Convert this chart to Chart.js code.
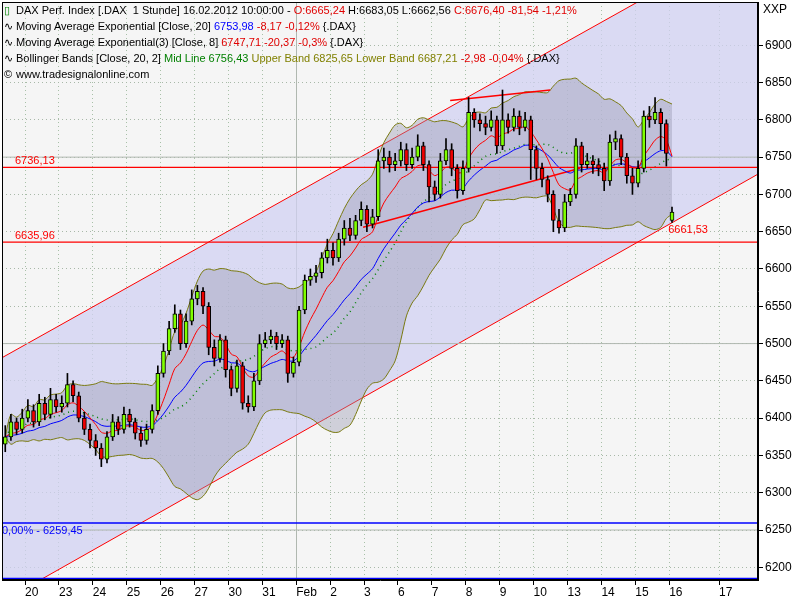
<!DOCTYPE html>
<html><head><meta charset="utf-8">
<script src="https://cdn.jsdelivr.net/npm/chart.js@4"></script>
<style>
html,body{margin:0;padding:0;background:#fff;}
#wrap{position:relative;width:800px;height:600px;}
#leg{position:absolute;left:4px;top:2px;font:11px "Liberation Sans",Arial,sans-serif;color:#000;line-height:16px;pointer-events:none;}
.r{color:#e00000}.b{color:#0000ff}.g{color:#008000}.o{color:#808000}
.ic{display:inline-block;width:12px;}
</style></head><body>
<div id="wrap"><canvas id="c" width="800" height="600"></canvas>
<div id="leg">
<div><span class="ic" style="color:#008000">&#9647;</span>DAX Perf. Index [.DAX&nbsp; 1 Stunde] 16.02.2012 10:00:00 - <span class="r">O:6665,24</span> H:6683,05 L:6662,56 <span class="r">C:6676,40 -81,54 -1,21%</span></div>
<div><span class="ic">&#8767;</span>Moving Average Exponential [Close, 20] <span class="b">6753,98</span> <span class="r">-8,17 -0,12%</span> {.DAX}</div>
<div><span class="ic">&#8767;</span>Moving Average Exponential(3) [Close, 8] <span class="r">6747,71 -20,37 -0,3%</span> {.DAX}</div>
<div><span class="ic">&#8767;</span>Bollinger Bands [Close, 20, 2] <span class="g">Mid Line 6756,43</span> <span class="o">Upper Band 6825,65 Lower Band 6687,21</span> <span class="r">-2,98 -0,04%</span> {.DAX}</div>
<div><span class="ic">&copy;</span>www.tradesignalonline.com</div>
</div></div>
<script>
// day start positions (x units: trading days since 20 Jan) and candles per day
const dayStarts = [-0.667,0,1,2,3,4,5,6,7,8,9,10,11,12,13,14,15,16,17,18,19];
const dayCounts = [4,6,6,6,6,6,6,6,6,6,6,6,6,6,6,6,6,6,6,6,1];
const closes = [6375,6395,6385,6400,
6410,6395,6420,6405,6425,6415,
6420,6445,6430,6400,6385,6370,
6360,6345,6375,6395,6385,6405,
6395,6380,6370,6385,6410,6460,
6490,6520,6540,6500,6530,6560,
6570,6550,6495,6480,6505,6465,
6440,6470,6420,6415,6450,6500,
6505,6510,6500,6505,6460,6475,
6545,6585,6590,6595,6615,6625,
6615,6640,6655,6645,6665,6680,
6660,6670,6745,6750,6740,6745,
6760,6740,6750,6765,6740,6710,
6700,6745,6760,6735,6705,6735,
6810,6800,6795,6790,6800,6765,
6800,6790,6805,6790,6800,6760,
6735,6720,6700,6665,6655,6690,
6700,6765,6740,6745,6740,6735,
6718,6770,6775,6750,6725,6715,
6735,6805,6800,6810,6795,6755,
6676.40];
const opens = [6365,6375,6395,6385,
6400,6410,6395,6420,6405,6425,
6415,6420,6445,6430,6400,6385,
6370,6360,6345,6375,6395,6385,
6405,6395,6380,6370,6385,6410,
6460,6490,6520,6540,6500,6530,
6560,6570,6550,6495,6480,6505,
6465,6440,6470,6420,6415,6450,
6500,6505,6510,6500,6505,6460,
6475,6545,6585,6590,6595,6615,
6625,6615,6640,6655,6645,6665,
6680,6660,6670,6745,6750,6740,
6745,6760,6740,6750,6765,6740,
6710,6700,6745,6760,6735,6705,
6735,6810,6800,6795,6790,6800,
6765,6800,6790,6805,6790,6800,
6760,6735,6720,6700,6665,6655,
6690,6700,6765,6740,6745,6740,
6735,6718,6770,6775,6750,6725,
6715,6735,6805,6800,6810,6795,
6665.24];
const highs = [6390,6405,6400,6412,
6425,6418,6432,6428,6440,6432,
6430,6460,6450,6435,6408,6392,
6378,6366,6382,6405,6402,6415,
6412,6400,6388,6392,6418,6470,
6500,6530,6552,6545,6540,6572,
6578,6575,6555,6505,6512,6510,
6470,6478,6475,6430,6460,6512,
6515,6518,6515,6512,6510,6482,
6550,6592,6600,6605,6622,6640,
6635,6648,6665,6668,6672,6690,
6685,6680,6760,6762,6758,6755,
6770,6768,6762,6780,6770,6745,
6718,6755,6775,6768,6740,6745,
6830,6815,6808,6805,6812,6805,
6840,6808,6815,6812,6810,6805,
6765,6742,6725,6705,6680,6700,
6708,6775,6770,6755,6752,6748,
6742,6780,6785,6780,6755,6735,
6745,6812,6818,6830,6815,6800,
6683.05];
const lows = [6355,6370,6378,6380,
6395,6388,6390,6398,6400,6408,
6408,6415,6422,6395,6378,6360,
6350,6335,6340,6370,6378,6380,
6388,6372,6362,6365,6380,6405,
6455,6485,6515,6492,6495,6525,
6552,6540,6485,6470,6475,6455,
6430,6435,6412,6408,6410,6445,
6495,6500,6492,6495,6448,6455,
6470,6540,6578,6582,6588,6608,
6605,6610,6632,6638,6640,6658,
6650,6655,6665,6735,6730,6732,
6738,6732,6735,6745,6732,6690,
6692,6695,6740,6725,6695,6700,
6730,6790,6785,6780,6785,6755,
6760,6782,6785,6780,6785,6720,
6720,6710,6690,6650,6648,6650,
6685,6695,6730,6735,6728,6725,
6705,6712,6760,6740,6715,6700,
6710,6730,6790,6795,6760,6738,
6662.56];
const tickPos = [0,1,2,3,4,5,6,7,8,9,10,11,12,13,14,15,16,17,18,19,20.47];
const tickLabels = ['20','23','24','25','26','27','30','31','Feb','2','3','6','7','8','9','10','13','14','15','16','17'];
const yTicks = [6200,6250,6300,6350,6400,6450,6500,6550,6600,6650,6700,6750,6800,6850,6900];
const channelUpper = [[-0.8,6478],[22,7058]];
const channelLower = [[-0.8,6151],[22,6737]];
const trendMid = [[9.97,6656],[16.37,6735]];
const trendTop = [[12.54,6826],[15.49,6840]];
const levels = [6736.13,6635.96];
const blueLevels = [6259.45,6185];
const majorGrid = [6250,6500,6750];

const xs=[];
dayStarts.forEach((s,d)=>{for(let j=0;j<dayCounts[d];j++) xs.push(s+(j+0.5)/6);});
function ema(p){const a=2/(p+1);let e=closes[0];return closes.map((c,i)=>{e=i?a*c+(1-a)*e:c;return e;});}
const ema20=ema(20), ema8=ema(8);
const bbMid=[],bbUp=[],bbLo=[];
closes.forEach((c,i)=>{const w=closes.slice(Math.max(0,i-19),i+1);const m=w.reduce((a,b)=>a+b,0)/w.length;
const sd=Math.sqrt(w.reduce((a,b)=>a+(b-m)*(b-m),0)/w.length);bbMid.push(m);bbUp.push(m+2*sd);bbLo.push(m-2*sd);});

const pts=(arr)=>arr.map((v,i)=>({x:xs[i],y:v}));
const seg=(a)=>a.map(p=>({x:p[0],y:p[1]}));
const XMIN=-0.68, XMAX=21.62;
const hline=(v)=>[{x:XMIN,y:v},{x:XMAX,y:v}];

const ds=[];
ds.push({type:'line',data:seg(channelUpper),borderColor:'#ff0000',borderWidth:1,pointRadius:0,fill:'+1',backgroundColor:'rgba(208,208,242,0.75)',order:100});
ds.push({type:'line',data:seg(channelLower),borderColor:'#ff0000',borderWidth:1,pointRadius:0,fill:false,order:99});
majorGrid.forEach(v=>ds.push({type:'line',data:hline(v),borderColor:'#b0b8b0',borderWidth:1,pointRadius:0,fill:false,order:98}));
ds.push({type:'line',data:pts(bbUp),borderColor:'#7a7a10',borderWidth:1,pointRadius:0,fill:'+1',backgroundColor:'rgba(150,150,175,0.4)',tension:0.3,order:90});
ds.push({type:'line',data:pts(bbLo),borderColor:'#7a7a10',borderWidth:1,pointRadius:0,fill:false,tension:0.3,order:89});
ds.push({type:'line',data:pts(bbMid),borderColor:'#008000',borderWidth:1.5,borderDash:[1,4],pointRadius:0,fill:false,tension:0.3,order:20});
levels.forEach(v=>ds.push({type:'line',data:hline(v),borderColor:'#ff0000',borderWidth:1.2,pointRadius:0,fill:false,order:8}));
blueLevels.forEach(v=>ds.push({type:'line',data:hline(v),borderColor:'#0000ff',borderWidth:1.5,pointRadius:0,fill:false,order:30}));
ds.push({type:'line',data:seg(trendMid),borderColor:'#ff0000',borderWidth:1.5,pointRadius:0,fill:false,order:15});
ds.push({type:'line',data:seg(trendTop),borderColor:'#ff0000',borderWidth:1.5,pointRadius:0,fill:false,order:15});
ds.push({type:'line',data:pts(ema20),borderColor:'#0000ff',borderWidth:1,pointRadius:0,fill:false,tension:0.3,order:10});
ds.push({type:'line',data:pts(ema8),borderColor:'#ff0000',borderWidth:1,pointRadius:0,fill:false,tension:0.3,order:9});
ds.push({type:'bar',data:xs.map((x,i)=>({x,y:[lows[i],highs[i]]})),backgroundColor:'#000',barThickness:1,grouped:false,order:3});
ds.push({type:'bar',data:xs.map((x,i)=>({x,y:[Math.min(opens[i],closes[i]),Math.max(opens[i],closes[i])+0.01]})),
 backgroundColor:xs.map((x,i)=>closes[i]>=opens[i]?'#80ff00':'#ee0000'),borderColor:'#000',borderWidth:1,borderSkipped:false,barThickness:4,grouped:false,order:2});

const deco={id:'deco',
 beforeDraw(ch){const c=ch.ctx,a=ch.chartArea;c.save();c.fillStyle='#f5f5f5';c.fillRect(a.left,a.top,a.right-a.left,a.bottom-a.top);c.restore();},
 beforeDatasetsDraw(ch){const c=ch.ctx,a=ch.chartArea,x=ch.scales.x.getPixelForValue(8);c.save();c.strokeStyle='#b0b8b0';c.beginPath();c.moveTo(Math.round(x)+0.5,a.top);c.lineTo(Math.round(x)+0.5,a.bottom);c.stroke();c.restore();},
 afterDraw(ch){const c=ch.ctx,a=ch.chartArea,y=ch.scales.y,x=ch.scales.x;c.save();
  c.font='11px "Liberation Sans",Arial,sans-serif';c.textBaseline='bottom';
  c.fillStyle='#ff0000';c.fillText('6736,13',a.left+13,y.getPixelForValue(levels[0])-1);
  c.fillText('6635,96',a.left+13,y.getPixelForValue(levels[1])-1);
  c.textBaseline='top';c.fillText('6661,53',x.getPixelForValue(19)-1,y.getPixelForValue(6662)+2);
  c.fillStyle='#0000ff';c.fillText('0,00% - 6259,45',a.left,y.getPixelForValue(blueLevels[0])+2);
  c.strokeStyle='#000';c.lineWidth=1;c.strokeRect(a.left+0.5,a.top+0.5,a.right-a.left-1,a.bottom-a.top-1);
  c.fillStyle='#000';c.font='12px "Liberation Sans",Arial,sans-serif';c.fillText('XXP',a.right+5,4);
  c.restore();}};

new Chart(document.getElementById('c'),{type:'bar',data:{datasets:ds},plugins:[deco],
options:{responsive:false,animation:false,events:[],layout:{padding:{left:2,top:2}},
 plugins:{legend:{display:false},tooltip:{enabled:false}},
 scales:{
  x:{type:'linear',min:XMIN,max:XMAX,z:1,offset:false,
   afterBuildTicks(s){s.ticks=tickPos.map(v=>({value:v}));},
   afterFit(s){s.height=20;s.paddingLeft=0;s.paddingRight=0;},
   ticks:{autoSkip:false,maxRotation:0,align:'start',padding:0,color:'#000',font:{family:'Liberation Sans',size:12},callback:(v,i)=>tickLabels[i]},
   grid:{color:'#a8c0a8',tickColor:'#000',tickLength:5,offset:false},border:{color:'#000',dash:[1,3]}},
  y:{position:'right',min:6183,max:6958,z:1,
   afterBuildTicks(s){s.ticks=yTicks.map(v=>({value:v}));},
   afterFit(s){s.width=42;s.paddingTop=0;s.paddingBottom=0;},
   ticks:{color:'#000',padding:2,font:{family:'Liberation Sans',size:12},callback:v=>String(v)},
   grid:{color:'#a8b8a8',tickColor:'#000',tickLength:5},border:{color:'#000',dash:[1,3]}}
 }}});
</script></body></html>
